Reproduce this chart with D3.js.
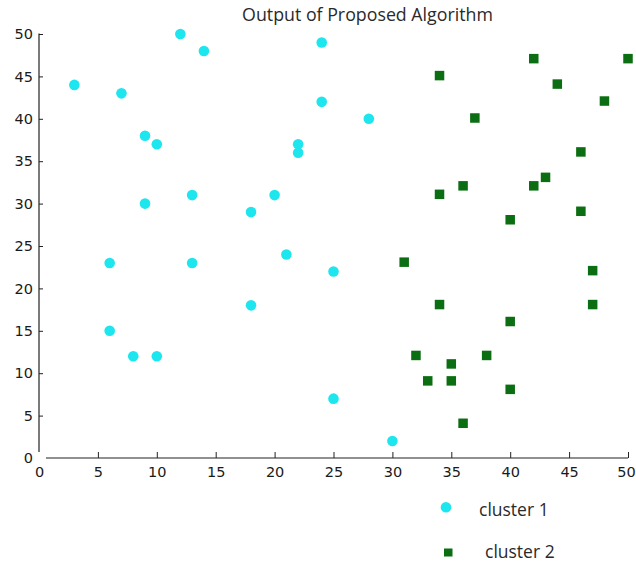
<!DOCTYPE html>
<html>
<head>
<meta charset="utf-8">
<script src="https://cdn.jsdelivr.net/npm/d3@7"></script>
<style>
  html, body { margin: 0; padding: 0; background: #fff; }
  svg { display: block; }
</style>
</head>
<body>
<svg id="chart" width="636" height="564"></svg>
<script>
// ---- data ----
const title = "Output of Proposed Algorithm";
const seriesNames = ["cluster 1", "cluster 2"];
const cluster1X = [3, 7, 12, 14, 9, 10, 9, 13, 18, 20, 22, 22, 24, 24, 28, 6, 13, 21, 25, 18, 6, 8, 10, 25, 30];
const cluster1Y = [44, 43, 50, 48, 38, 37, 30, 31, 29, 31, 37, 36, 49, 42, 40, 23, 23, 24, 22, 18, 15, 12, 12, 7, 2];
const cluster2X = [42, 50, 34, 44, 48, 37, 46, 43, 42, 36, 34, 46, 40, 31, 47, 47, 34, 40, 32, 38, 35, 33, 35, 40, 36];
const cluster2Y = [47, 47, 45, 44, 42, 40, 36, 33, 32, 32, 31, 29, 28, 23, 22, 18, 18, 16, 12, 12, 11, 9, 9, 8, 4];
const xTicks = [0, 5, 10, 15, 20, 25, 30, 35, 40, 45, 50];
const yTicks = [0, 5, 10, 15, 20, 25, 30, 35, 40, 45, 50];

// ---- layout ----
const svg = d3.select("#chart");
const x = d3.scaleLinear().domain([0, 50]).range([39, 628]);
const y = d3.scaleLinear().domain([0, 50]).range([458, 34]);
const cyan = "#1ee6ee";
const green = "#0b6e12";
const tickFont = "'DejaVu Sans', sans-serif";
const textFont = "'Open Sans', sans-serif";
const tickSize = 14.5;

// title
svg.append("text")
  .attr("x", 367.5).attr("y", 21)
  .attr("text-anchor", "middle")
  .attr("font-family", textFont)
  .attr("font-size", 17.8)
  .attr("fill", "#2a2a2a")
  .text(title);

// axes (MATLAB-like inward ticks)
const yAxis = d3.axisLeft(y).tickValues(yTicks).tickSizeInner(-4).tickSizeOuter(0).tickPadding(6);
const gy = svg.append("g").attr("transform", `translate(${x(0)},0)`).call(yAxis);
gy.select(".domain").remove();
gy.selectAll(".tick").filter(d => d === 0).select("line").remove();
gy.selectAll(".tick line").attr("stroke", "#222");
gy.selectAll(".tick text").attr("font-family", tickFont).attr("font-size", tickSize).attr("fill", "#1a1a1a");

const xAxis = d3.axisBottom(x).tickValues(xTicks).tickSizeInner(-6).tickSizeOuter(0).tickPadding(8.5);
const gx = svg.append("g").attr("transform", `translate(0,${y(0)})`).call(xAxis);
gx.select(".domain").remove();
gx.selectAll(".tick").filter(d => d === 0).select("line").remove();
gx.selectAll(".tick line").attr("stroke", "#222");
gx.selectAll(".tick text").attr("font-family", tickFont).attr("font-size", tickSize).attr("fill", "#1a1a1a");
// keep the last label inside the window edge
gx.selectAll(".tick").filter(d => d === 50).select("text").attr("dx", -2);

// axis lines with the small gap at the origin
svg.append("line")
  .attr("x1", x(0)).attr("x2", x(0))
  .attr("y1", y(50) - 0.5).attr("y2", y(0) - 6)
  .attr("stroke", "#222").attr("stroke-width", 1.2);
svg.append("line")
  .attr("x1", x(0) + 7).attr("x2", x(50))
  .attr("y1", y(0)).attr("y2", y(0))
  .attr("stroke", "#222").attr("stroke-width", 1.2);

// points
const d1 = cluster1X.map((v, i) => ({ x: v, y: cluster1Y[i] }));
const d2 = cluster2X.map((v, i) => ({ x: v, y: cluster2Y[i] }));

svg.append("g").selectAll("circle").data(d1).join("circle")
  .attr("cx", d => x(d.x)).attr("cy", d => y(d.y))
  .attr("r", 5.3).attr("fill", cyan);

const sq = 9.5;
svg.append("g").selectAll("rect").data(d2).join("rect")
  .attr("x", d => x(d.x) - sq / 2).attr("y", d => y(d.y) - sq / 2 - 0.8)
  .attr("width", sq).attr("height", sq).attr("fill", green);

// legend
svg.append("circle").attr("cx", 446).attr("cy", 507.3).attr("r", 5.3).attr("fill", cyan);
svg.append("text").attr("x", 479).attr("y", 515.5)
  .attr("font-family", textFont).attr("font-size", 17.5).attr("fill", "#2a2a2a")
  .text(seriesNames[0]);
svg.append("rect").attr("x", 444).attr("y", 548.5).attr("width", 8.5).attr("height", 8)
  .attr("fill", green);
svg.append("text").attr("x", 485).attr("y", 557.5)
  .attr("font-family", textFont).attr("font-size", 17.5).attr("fill", "#2a2a2a")
  .text(seriesNames[1]);
</script>
</body>
</html>
